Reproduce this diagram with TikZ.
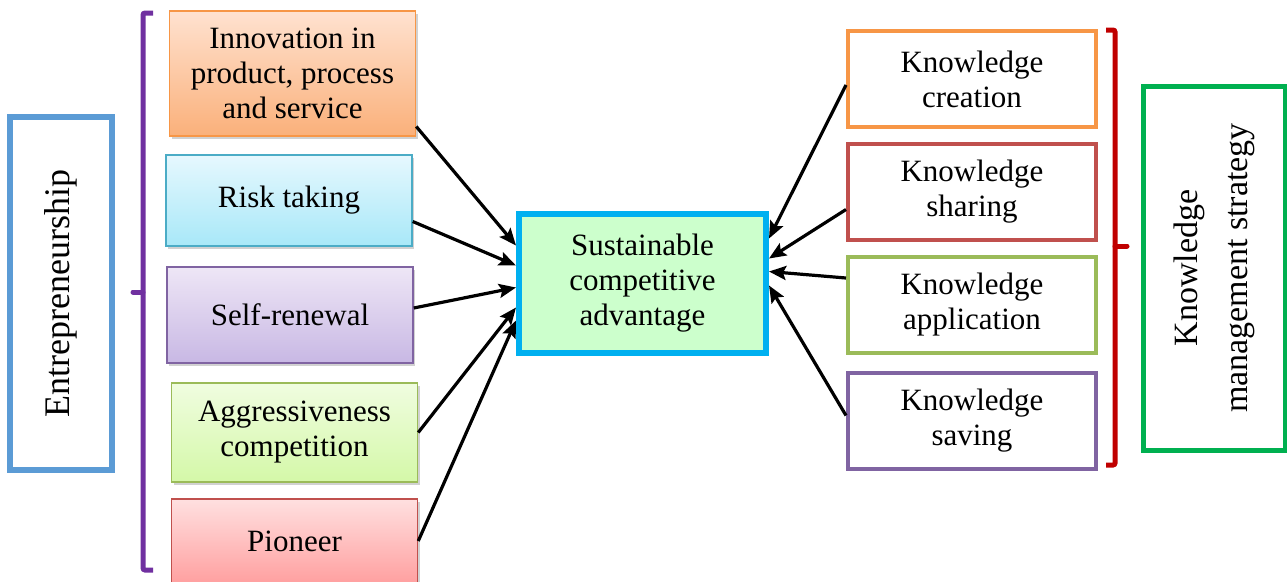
\documentclass[tikz,border=0pt]{standalone}
\usepackage{fontspec}
\setmainfont{Liberation Serif}
\usetikzlibrary{arrows.meta,shadows}

\definecolor{orangeline}{HTML}{F79646}
\definecolor{blueline}{HTML}{4BACC6}
\definecolor{purpleline}{HTML}{8064A2}
\definecolor{greenline}{HTML}{9BBB59}
\definecolor{redline}{HTML}{C0504D}
\definecolor{cyanline}{HTML}{00B0F0}
\definecolor{entreline}{HTML}{5B9BD5}
\definecolor{kmsline}{HTML}{00B050}
\definecolor{bracketpurple}{HTML}{7030A0}
\definecolor{bracketred}{HTML}{C00000}
\definecolor{scafill}{HTML}{CCFFCC}
\definecolor{orangetop}{HTML}{FFE2D0}
\definecolor{orangebot}{HTML}{FAB07A}
\definecolor{bluetop}{HTML}{E6F8FE}
\definecolor{bluebot}{HTML}{A8E8F8}
\definecolor{purpletop}{HTML}{EEE6F6}
\definecolor{purplebot}{HTML}{C8B8E4}
\definecolor{greentop}{HTML}{F0FDE0}
\definecolor{greenbot}{HTML}{D4F8A8}
\definecolor{redtop}{HTML}{FFE0E0}
\definecolor{redbot}{HTML}{FFA0A0}

\tikzset{
  txt/.style={align=center, inner sep=0pt, font=\rmfamily\fontsize{31}{35}\selectfont},
  leftbox/.style={txt, draw=#1line, top color=#1top, bottom color=#1bot, line width=1.5pt,
    minimum width=246pt,
    drop shadow={shadow xshift=2pt, shadow yshift=-3pt, opacity=.3, fill=black!60}},
  rightbox/.style={txt, draw=#1, line width=4pt, fill=white, minimum width=248pt, minimum height=96pt},
  link/.style={line width=3.2pt, -{Stealth[length=17pt, width=14pt, inset=3pt]}}
}

\begin{document}
\begin{tikzpicture}[x=1pt, y=-1pt]
  \useasboundingbox (0,0) rectangle (1287,581);
  % left side
  \node[draw=entreline, line width=6pt, rotate=90, minimum width=353pt, minimum height=102pt,
        inner sep=0pt, font=\rmfamily\fontsize{36}{40}\selectfont] (entre) at (61, 293.5) {Entrepreneurship};
  \draw[bracketpurple, line width=5pt, rounded corners=2pt]
    (153, 13) -- (143, 13) -- (143, 570) -- (153, 570);
  \draw[bracketpurple, line width=5pt, line cap=round] (143, 292) -- (133, 292);

  \node[leftbox=orange, minimum height=125pt] (inno) at (292.5, 73.5) {Innovation in\\product, process\\and service};
  \node[leftbox=blue, minimum height=91pt] (risk) at (289, 200.5) {Risk taking};
  \node[leftbox=purple, minimum height=96pt] (renew) at (290, 315) {Self-renewal};
  \node[leftbox=green, minimum height=99pt] (aggr) at (294.5, 432.5) {Aggressiveness\\competition};
  \node[leftbox=red, minimum height=84pt] (pioneer) at (294.5, 541) {Pioneer};

  % centre
  \node[txt, draw=cyanline, line width=6pt, fill=scafill,
        minimum width=247pt, minimum height=139pt] (sca) at (642.5, 283.5)
    {Sustainable\\competitive\\advantage};

  % right side
  \node[rightbox=orangeline] (crea) at (972, 79) {Knowledge\\creation};
  \node[rightbox=redline] (share) at (972, 191.5) {Knowledge\\sharing};
  \node[rightbox=greenline] (appl) at (972, 305) {Knowledge\\application};
  \node[rightbox=purpleline] (save) at (972, 420.5) {Knowledge\\saving};

  \draw[bracketred, line width=5pt, rounded corners=2pt]
    (1106, 30) -- (1115, 30) -- (1115, 465) -- (1106, 465);
  \draw[bracketred, line width=5pt, line cap=round] (1115, 246) -- (1127, 246);

  \node[draw=kmsline, line width=5pt, rotate=90, minimum width=364pt, minimum height=142pt,
        align=center, inner sep=0pt, font=\rmfamily\fontsize{34}{50}\selectfont] (kms) at (1214, 268)
    {Knowledge\\management strategy};

  % arrows
  \draw[link] ([yshift=-53pt]inno.east) -- ([yshift=38pt]sca.west);
  \draw[link] ([yshift=-21pt]risk.east) -- ([yshift=18pt]sca.west);
  \draw[link] ([yshift=7pt]renew.east) -- ([yshift=-4pt]sca.west);
  \draw[link] (aggr.east) -- ([yshift=-24pt]sca.west);
  \draw[link] (pioneer.east) -- ([yshift=-37pt]sca.west);
  \draw[link] ([yshift=-6pt]crea.west) -- ([yshift=45pt]sca.east);
  \draw[link] ([yshift=-18pt]share.west) -- ([yshift=25pt]sca.east);
  \draw[link] ([yshift=27pt]appl.west) -- ([yshift=12pt]sca.east);
  \draw[link] ([yshift=5pt]save.west) -- ([yshift=-2pt]sca.east);
\end{tikzpicture}
\end{document}
